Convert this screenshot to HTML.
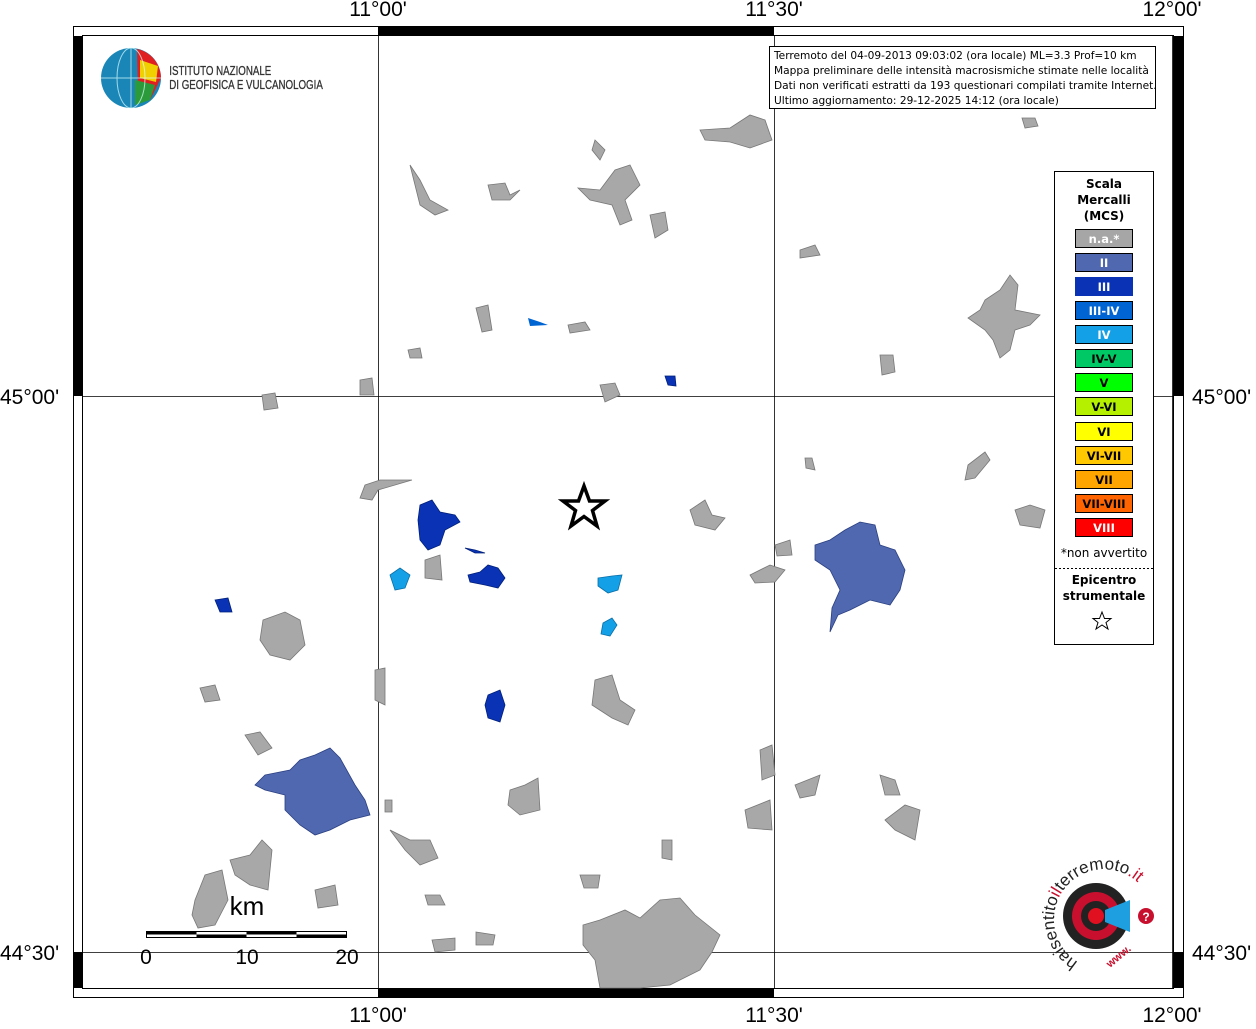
<!DOCTYPE html>
<html><head><meta charset="utf-8"><style>
body{margin:0;background:#fff;width:1256px;height:1024px;overflow:hidden}
svg text{font-family:"Liberation Sans","DejaVu Sans",sans-serif}
svg text.dv{font-family:"DejaVu Sans",sans-serif}
</style></head><body>
<svg width="1256" height="1024" xmlns="http://www.w3.org/2000/svg">
<rect x="73.5" y="26.5" width="1110" height="971" fill="#fff" stroke="#000"/>
<rect x="82.5" y="35.5" width="1091" height="953" fill="#fff" stroke="#000"/>
<rect x="378" y="27" width="396" height="9" fill="#000"/>
<rect x="378" y="988" width="396" height="9" fill="#000"/>
<rect x="74" y="36" width="8" height="360" fill="#000"/>
<rect x="74" y="952" width="8" height="36" fill="#000"/>
<rect x="1174" y="36" width="9" height="360" fill="#000"/>
<rect x="1174" y="952" width="9" height="36" fill="#000"/>
<g stroke="#000" stroke-width="0.8">
<line x1="378.5" y1="36" x2="378.5" y2="988"/>
<line x1="774.5" y1="36" x2="774.5" y2="988"/>
<line x1="1172.5" y1="36" x2="1172.5" y2="988"/>
<line x1="82" y1="396.5" x2="1174" y2="396.5"/>
<line x1="82" y1="952.5" x2="1174" y2="952.5"/>
</g>
<g font-size="21" fill="#000">
<text x="378" y="16" text-anchor="middle">11°00'</text>
<text x="774" y="16" text-anchor="middle">11°30'</text>
<text x="1172" y="16" text-anchor="middle">12°00'</text>
<text x="378" y="1022" text-anchor="middle">11°00'</text>
<text x="774" y="1022" text-anchor="middle">11°30'</text>
<text x="1172" y="1022" text-anchor="middle">12°00'</text>
<text x="0" y="404">45°00'</text>
<text x="1192" y="404">45°00'</text>
<text x="0" y="960">44°30'</text>
<text x="1192" y="960">44°30'</text>
</g>
<g fill="#a8a8a8" stroke="#777" stroke-width="0.8">
<path d="M600,190 L615,170 L630,165 L640,185 L625,200 L632,220 L620,225 L612,205 L590,200 L578,188Z"/>
<path d="M595,140 L605,150 L600,160 L592,150Z"/>
<path d="M650,215 L665,212 L668,230 L655,238Z"/>
<path d="M700,130 L730,128 L750,115 L765,120 L772,140 L750,148 L730,142 L705,140Z"/>
<path d="M410,165 L420,180 L430,200 L448,210 L435,215 L420,205 L415,185Z"/>
<path d="M488,185 L505,183 L510,195 L520,190 L510,200 L492,200Z"/>
<path d="M476,308 L488,305 L492,330 L482,332Z"/>
<path d="M568,325 L585,322 L590,330 L570,333Z"/>
<path d="M600,385 L615,383 L620,395 L605,402Z"/>
<path d="M360,380 L372,378 L374,395 L360,395Z"/>
<path d="M262,395 L275,393 L278,408 L264,410Z"/>
<path d="M408,350 L420,348 L422,358 L410,358Z"/>
<path d="M365,485 L380,480 L412,480 L378,490 L372,500 L360,498Z"/>
<path d="M425,560 L440,555 L442,580 L425,578Z"/>
<path d="M690,510 L705,500 L712,515 L725,518 L715,530 L695,525Z"/>
<path d="M263,620 L285,612 L300,620 L305,645 L290,660 L270,655 L260,640Z"/>
<path d="M200,688 L215,685 L220,700 L205,702Z"/>
<path d="M375,670 L385,668 L385,705 L375,700Z"/>
<path d="M595,680 L612,675 L620,700 L635,710 L628,725 L612,718 L592,705Z"/>
<path d="M245,735 L260,732 L272,748 L258,755Z"/>
<path d="M510,790 L525,785 L538,778 L540,810 L520,815 L508,805Z"/>
<path d="M390,830 L410,840 L430,840 L438,858 L420,865 L405,850Z"/>
<path d="M760,750 L772,745 L775,775 L762,780Z"/>
<path d="M795,785 L820,775 L815,795 L800,798Z"/>
<path d="M880,775 L895,780 L900,795 L885,795Z"/>
<path d="M885,820 L905,805 L920,810 L915,840 L895,830Z"/>
<path d="M745,810 L770,800 L772,830 L748,828Z"/>
<path d="M662,840 L672,840 L672,860 L662,858Z"/>
<path d="M580,875 L600,875 L598,888 L584,888Z"/>
<path d="M425,895 L440,895 L445,905 L428,905Z"/>
<path d="M432,940 L455,938 L455,950 L435,952Z"/>
<path d="M476,932 L495,935 L493,945 L476,945Z"/>
<path d="M315,890 L335,885 L338,905 L318,908Z"/>
<path d="M230,860 L250,855 L262,840 L272,850 L268,890 L250,885 L235,875Z"/>
<path d="M195,900 L205,875 L222,870 L228,900 L215,925 L198,928 L192,915Z"/>
<path d="M583,925 L600,920 L625,910 L640,918 L660,900 L680,898 L695,915 L720,935 L712,952 L700,970 L670,985 L640,988 L600,988 L595,960 L583,945Z"/>
<path d="M985,300 L1000,290 L1010,275 L1018,285 L1015,310 L1040,315 L1030,325 L1015,330 L1010,350 L1000,358 L993,340 L985,330 L968,318 L980,310Z"/>
<path d="M880,355 L893,355 L895,372 L882,375Z"/>
<path d="M800,250 L815,245 L820,255 L800,258Z"/>
<path d="M1022,118 L1035,118 L1038,126 L1025,128Z"/>
<path d="M968,465 L985,452 L990,460 L975,478 L965,480Z"/>
<path d="M1015,510 L1030,505 L1045,510 L1040,528 L1020,525Z"/>
<path d="M805,458 L812,458 L815,470 L806,468Z"/>
<path d="M750,575 L770,565 L785,570 L775,582 L755,583Z"/>
<path d="M775,545 L790,540 L792,555 L777,556Z"/>
<path d="M385,800 L392,800 L392,812 L385,812Z"/>
</g>
<g fill="#5068b0" stroke="#2a3f80" stroke-width="0.8">
<path d="M265,775 L290,770 L300,760 L315,755 L330,748 L340,758 L355,785 L365,800 L370,815 L350,820 L330,830 L315,835 L300,825 L285,810 L285,795 L265,790 L255,785Z"/>
<path d="M815,545 L830,540 L845,530 L860,522 L875,525 L880,545 L895,550 L905,570 L900,590 L890,605 L870,600 L850,610 L838,615 L830,632 L832,608 L840,590 L830,570 L815,560Z"/>
</g>
<g fill="#0a32b4" stroke="#00207a" stroke-width="0.8">
<path d="M420,505 L432,500 L440,512 L455,515 L460,522 L445,530 L440,545 L428,550 L420,540 L418,520Z"/>
<path d="M468,575 L480,572 L488,565 L498,568 L505,578 L498,588 L485,585 L470,582Z"/>
<path d="M465,548 L475,550 L485,553 L475,553Z"/>
<path d="M215,600 L228,598 L232,612 L220,612Z"/>
<path d="M488,695 L500,690 L505,705 L500,722 L488,718 L485,705Z"/>
<path d="M665,376 L675,376 L676,386 L668,385Z"/>
</g>
<g fill="#0064d2"><path d="M528,318 L540,322 L548,325 L530,326Z"/></g>
<g fill="#14a0e6" stroke="#0a6fa8" stroke-width="0.8">
<path d="M390,575 L400,568 L410,575 L405,588 L395,590Z"/>
<path d="M598,578 L612,576 L622,575 L618,590 L608,593 L598,586Z"/>
<path d="M603,623 L612,618 L617,625 L610,636 L601,634Z"/>
</g>
<polygon points="584,486 589.5,501 605,501 592.5,510.5 597,526 584,516.5 571,526 575.5,510.5 563,501 578.5,501" fill="#fff" stroke="#000" stroke-width="3.5"/>
<rect x="769.5" y="46.5" width="386" height="62" fill="#fff" stroke="#000"/>
<g font-size="10.6">
<text class="dv" x="774" y="59">Terremoto del 04-09-2013 09:03:02 (ora locale) ML=3.3 Prof=10 km</text>
<text class="dv" x="774" y="74">Mappa preliminare delle intensità macrosismiche stimate nelle località</text>
<text class="dv" x="774" y="89">Dati non verificati estratti da 193 questionari compilati tramite Internet.</text>
<text class="dv" x="774" y="104">Ultimo aggiornamento: 29-12-2025 14:12 (ora locale)</text>
</g>
<circle cx="131" cy="78" r="30" fill="#1a86b8"/>
<path d="M137,49 A30,30 0 0 1 161,78 L150,100 L138,95 Z" fill="#e02020"/>
<path d="M140,60 L158,66 L156,82 L140,78Z" fill="#f0d000"/>
<path d="M135,80 L155,85 L150,100 L135,105Z" fill="#2a9a3a"/>
<g stroke="#dff" stroke-width="1" fill="none" opacity="0.7"><ellipse cx="131" cy="78" rx="14" ry="30"/><line x1="101" y1="78" x2="161" y2="78"/><line x1="131" y1="48" x2="131" y2="108"/></g>
<g font-size="12.5" fill="#333" transform="scale(0.78,1)">
<text x="217" y="75" stroke="#333" stroke-width="0.3">ISTITUTO NAZIONALE</text>
<text x="217" y="89" stroke="#333" stroke-width="0.3">DI GEOFISICA E VULCANOLOGIA</text>
</g>
<rect x="1054.5" y="171.5" width="99" height="473" fill="#fff" stroke="#000"/>
<g font-size="12" font-weight="bold" text-anchor="middle">
<text class="dv" x="1104" y="188">Scala</text>
<text class="dv" x="1104" y="204">Mercalli</text>
<text class="dv" x="1104" y="220">(MCS)</text>
</g>
<g stroke="#000" stroke-width="1">
<rect x="1075.5" y="229.5" width="57" height="18" fill="#a6a6a6"/>
<rect x="1075.5" y="253.5" width="57" height="18" fill="#5068b0"/>
<rect x="1075" y="277" width="58" height="19" fill="#0a32b4" stroke="none"/>
<rect x="1075.5" y="301.5" width="57" height="18" fill="#0064d2"/>
<rect x="1075.5" y="325.5" width="57" height="18" fill="#14a0e6"/>
<rect x="1075.5" y="349.5" width="57" height="18" fill="#00c864"/>
<rect x="1075.5" y="373.5" width="57" height="18" fill="#00ff00"/>
<rect x="1075.5" y="397.5" width="57" height="18" fill="#b4f000"/>
<rect x="1075.5" y="422.5" width="57" height="18" fill="#ffff00"/>
<rect x="1075.5" y="446.5" width="57" height="18" fill="#ffc800"/>
<rect x="1075.5" y="470.5" width="57" height="18" fill="#ffa500"/>
<rect x="1075.5" y="494.5" width="57" height="18" fill="#ff6400"/>
<rect x="1075.5" y="518.5" width="57" height="18" fill="#ff0000"/>
</g>
<g font-size="11.5" font-weight="bold" text-anchor="middle">
<text class="dv" x="1104" y="243" fill="#fff">n.a.*</text>
<text class="dv" x="1104" y="267" fill="#fff">II</text>
<text class="dv" x="1104" y="291" fill="#fff">III</text>
<text class="dv" x="1104" y="315" fill="#fff">III-IV</text>
<text class="dv" x="1104" y="339" fill="#fff">IV</text>
<text class="dv" x="1104" y="363">IV-V</text>
<text class="dv" x="1104" y="387">V</text>
<text class="dv" x="1104" y="411">V-VI</text>
<text class="dv" x="1104" y="436">VI</text>
<text class="dv" x="1104" y="460">VI-VII</text>
<text class="dv" x="1104" y="484">VII</text>
<text class="dv" x="1104" y="508">VII-VIII</text>
<text class="dv" x="1104" y="532" fill="#fff">VIII</text>
</g>
<text class="dv" x="1104" y="557" font-size="12" text-anchor="middle">*non avvertito</text>
<line x1="1055" y1="568.5" x2="1153" y2="568.5" stroke="#000" stroke-dasharray="2,2"/>
<g font-size="12" font-weight="bold" text-anchor="middle">
<text class="dv" x="1104" y="584">Epicentro</text>
<text class="dv" x="1104" y="600">strumentale</text>
</g>
<polygon points="1102,612 1104.5,618.5 1111,618.5 1106,622.5 1108,629 1102,625 1096,629 1098,622.5 1093,618.5 1099.5,618.5" fill="#fff" stroke="#000"/>
<text x="247" y="915" font-size="26" text-anchor="middle">km</text>
<rect x="146.5" y="931.5" width="200" height="6" fill="#fff" stroke="#000"/>
<rect x="146.5" y="931.5" width="50" height="3" fill="#000"/>
<rect x="196.5" y="934.5" width="50" height="3" fill="#000"/>
<rect x="246.5" y="931.5" width="50" height="3" fill="#000"/>
<rect x="296.5" y="934.5" width="50" height="3" fill="#000"/>
<g font-size="21" text-anchor="middle">
<text x="146" y="964">0</text><text x="247" y="964">10</text><text x="347" y="964">20</text>
</g>
<circle cx="1096" cy="916" r="33" fill="#222"/>
<circle cx="1096" cy="916" r="24" fill="#c8102e"/>
<circle cx="1096" cy="916" r="15" fill="#222"/>
<circle cx="1096" cy="916" r="8" fill="#e01020"/>
<path d="M1105,910 L1130,900 L1130,932 L1105,922Z" fill="#1ea0e0"/>
<circle cx="1146" cy="916" r="8" fill="#c8102e"/>
<text x="1146" y="921" font-size="12" font-weight="bold" fill="#fff" text-anchor="middle">?</text>
<defs><path id="arc" d="M1078,962 A50,50 0 1 1 1143,888"/></defs>
<text font-size="17" fill="#222"><textPath href="#arc">haisentito<tspan fill="#c8102e">il</tspan>terremoto<tspan fill="#c8102e">.it</tspan></textPath></text>
<text x="1110" y="968" font-size="11" fill="#c8102e" font-weight="bold" transform="rotate(-40 1110 968)">www.</text>
</svg>
</body></html>
